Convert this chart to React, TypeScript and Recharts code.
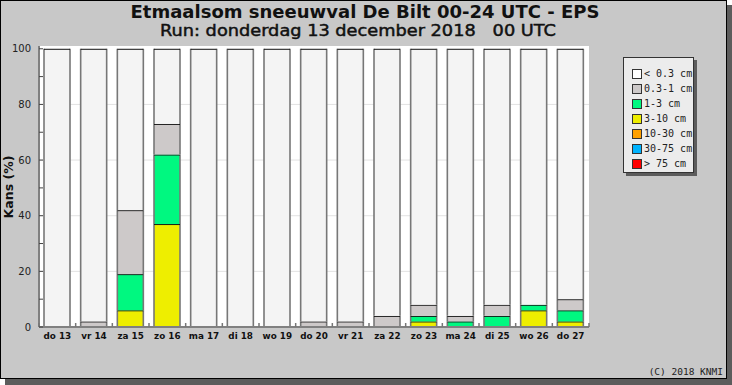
import { BarChart, Bar, XAxis, YAxis, CartesianGrid } from "recharts";

// dagen (as)
const days = [
  "do 13", "vr 14", "za 15", "zo 16", "ma 17", "di 18", "wo 19", "do 20",
  "vr 21", "za 22", "zo 23", "ma 24", "di 25", "wo 26", "do 27",
];

// kans (%) per klasse
const lt03 = [100, 98, 58, 27, 100, 100, 100, 98, 98, 96, 92, 96, 92, 92, 90];
const c03to1 = [0, 2, 23, 11, 0, 0, 0, 2, 2, 4, 4, 2, 4, 0, 4];
const c1to3 = [0, 0, 13, 25, 0, 0, 0, 0, 0, 0, 2, 2, 4, 2, 4];
const c3to10 = [0, 0, 6, 37, 0, 0, 0, 0, 0, 0, 2, 0, 0, 6, 2];
const c10to30 = [0, 0, 0, 0, 0, 0, 0, 0, 0, 0, 0, 0, 0, 0, 0];
const c30to75 = [0, 0, 0, 0, 0, 0, 0, 0, 0, 0, 0, 0, 0, 0, 0];
const gt75 = [0, 0, 0, 0, 0, 0, 0, 0, 0, 0, 0, 0, 0, 0, 0];

const yTicks = [0, 10, 20, 30, 40, 50, 60, 70, 80, 90, 100];

// legend order (top to bottom)
const series = [
  { key: "lt03", name: "< 0.3 cm", color: "#f4f4f4", swatch: "#ffffff", values: lt03 },
  { key: "c03to1", name: "0.3-1 cm", color: "#cdc9c9", swatch: "#cdc9c9", values: c03to1 },
  { key: "c1to3", name: "1-3 cm", color: "#00f880", swatch: "#00f880", values: c1to3 },
  { key: "c3to10", name: "3-10 cm", color: "#eeee00", swatch: "#eeee00", values: c3to10 },
  { key: "c10to30", name: "10-30 cm", color: "#ffa000", swatch: "#ffa000", values: c10to30 },
  { key: "c30to75", name: "30-75 cm", color: "#00b4ff", swatch: "#00b4ff", values: c30to75 },
  { key: "gt75", name: "> 75 cm", color: "#ff0000", swatch: "#ff0000", values: gt75 },
];

const data = days.map((day, i) => {
  const row: Record<string, string | number> = { day };
  series.forEach((s) => (row[s.key] = s.values[i]));
  return row;
});

const BarShape = (props: any) => {
  const { x, y, width, height, fill } = props;
  if (!height || height <= 0) return null;
  return (
    <g>
      <rect x={x} y={y} width={width} height={height} fill={fill} />
      <line x1={x} y1={y} x2={x} y2={y + height} stroke="#777" strokeWidth={1.6} />
      <line x1={x + width} y1={y} x2={x + width} y2={y + height} stroke="#777" strokeWidth={1.6} />
      <line x1={x} y1={y + 0.5} x2={x + width} y2={y + 0.5} stroke="#111" strokeWidth={1} />
    </g>
  );
};

const XTick = (props: any) => {
  const { x, y, payload, index } = props;
  const off = payload.offset ?? 18.33;
  return (
    <g>
      <line x1={x - off} y1={y - 4} x2={x - off} y2={y} stroke="#777" strokeWidth={1.5} />
      {index === days.length - 1 && (
        <line x1={x + off} y1={y - 4} x2={x + off} y2={y} stroke="#777" strokeWidth={1.5} />
      )}
      <text
        x={x}
        y={y + 12}
        textAnchor="middle"
        fontFamily="DejaVu Sans"
        fontWeight="bold"
        fontSize={8.8}
        fill="#111"
      >
        {payload.value}
      </text>
    </g>
  );
};

const YTick = (props: any) => {
  const { x, y, payload } = props;
  return (
    <g>
      <line x1={x} y1={y} x2={x + 4} y2={y} stroke="#444" strokeWidth={1} />
      {payload.value % 20 === 0 && (
        <text
          x={x - 8}
          y={y + 3.5}
          textAnchor="end"
          fontFamily="DejaVu Sans"
          fontSize={10}
          fill="#222"
        >
          {payload.value}
        </text>
      )}
    </g>
  );
};

export default function App() {
  return (
    <div style={{ position: "absolute", left: 0, top: 0, width: 732, height: 385, background: "#fff" }}>
      {/* schaduw */}
      <div style={{ position: "absolute", left: 5, top: 5, width: 727, height: 380, background: "#5c5c5c" }} />
      {/* kader */}
      <div
        style={{
          position: "absolute",
          left: 0,
          top: 0,
          width: 725,
          height: 377,
          background: "#c8c8c8",
          border: "1px solid #000",
        }}
      />
      <div style={{ position: "absolute", left: 0, top: 0 }}>
        <BarChart
          width={732}
          height={385}
          data={data}
          margin={{ top: 46, right: 143, bottom: 38, left: 8 }}
          barSize={26}
        >
          <CartesianGrid
            vertical={false}
            horizontalValues={[20, 40, 60, 80]}
            stroke="#e2e2e2"
            fill="#ffffff"
          />
          <XAxis
            dataKey="day"
            interval={0}
            height={20}
            tickSize={0}
            tickMargin={0}
            tickLine={false}
            axisLine={{ stroke: "#808080", strokeWidth: 2 }}
            tick={<XTick />}
          />
          <YAxis
            width={31}
            domain={[0, 101]}
            ticks={yTicks}
            tickSize={0}
            tickMargin={0}
            tickLine={false}
            axisLine={{ stroke: "#808080", strokeWidth: 2 }}
            tick={<YTick />}
          />
          {[...series].reverse().map((s) => (
            <Bar
              key={s.key}
              dataKey={s.key}
              name={s.name}
              stackId="a"
              fill={s.color}
              shape={<BarShape />}
              isAnimationActive={false}
            />
          ))}
        </BarChart>
      </div>
      <svg
        width={732}
        height={385}
        style={{ position: "absolute", left: 0, top: 0, pointerEvents: "none" }}
      >
        <text
          x={365}
          y={18}
          textAnchor="middle"
          fontFamily="DejaVu Sans"
          fontWeight="bold"
          fontSize={17.5}
          textLength={469}
          lengthAdjust="spacingAndGlyphs"
          fill="#111"
        >
          Etmaalsom sneeuwval De Bilt 00-24 UTC - EPS
        </text>
        <text
          x={358}
          y={36}
          textAnchor="middle"
          fontFamily="DejaVu Sans"
          fontSize={15}
          textLength={396}
          lengthAdjust="spacingAndGlyphs"
          fill="#111"
          stroke="#111"
          strokeWidth={0.45}
          style={{ whiteSpace: "pre" }}
        >
          {"Run: donderdag 13 december 2018   00 UTC"}
        </text>
        <text
          x={0}
          y={0}
          transform="translate(13,187) rotate(-90)"
          textAnchor="middle"
          fontFamily="DejaVu Sans"
          fontWeight="bold"
          fontSize={12.5}
          fill="#111"
        >
          Kans (%)
        </text>
        <text
          x={723}
          y={375}
          textAnchor="end"
          fontFamily="DejaVu Sans Mono"
          fontSize={9.5}
          fill="#222"
        >
          (C) 2018 KNMI
        </text>
      </svg>
      {/* legenda */}
      <div
        style={{
          position: "absolute",
          left: 623,
          top: 57,
          width: 71,
          height: 116,
          background: "#ececec",
          border: "1px solid #333",
          boxShadow: "3px 3px 0 #5c5c5c",
          fontFamily: "DejaVu Sans Mono",
          fontSize: 10,
          color: "#222",
          paddingTop: 8,
          boxSizing: "border-box",
        }}
      >
        {series.map((s) => (
          <div key={s.key} style={{ display: "flex", alignItems: "center", height: 15, paddingLeft: 8 }}>
            <span
              style={{
                display: "inline-block",
                width: 8,
                height: 8,
                background: s.swatch,
                border: "1px solid #333",
                marginRight: 2,
              }}
            />
            <span style={{ whiteSpace: "pre" }}>{s.name}</span>
          </div>
        ))}
      </div>
    </div>
  );
}
